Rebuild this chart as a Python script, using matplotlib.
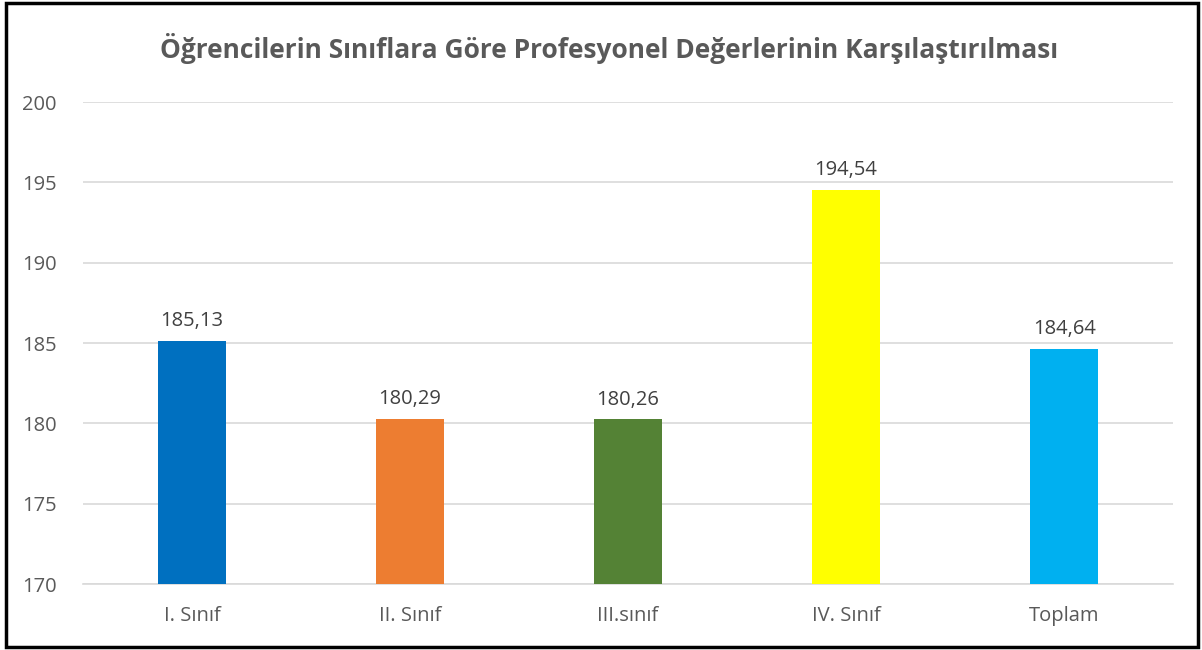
import matplotlib
matplotlib.use("Agg")
import matplotlib.pyplot as plt
from matplotlib.patches import Rectangle

categories = ["I. Sınıf", "II. Sınıf", "III.sınıf", "IV. Sınıf", "Toplam"]
values = [185.13, 180.29, 180.26, 194.54, 184.64]
value_labels = ["185,13", "180,29", "180,26", "194,54", "184,64"]
colors = ["#0070C0", "#ED7D31", "#548235", "#FFFF00", "#00B0F0"]
yticks = [170, 175, 180, 185, 190, 195, 200]
title = "Öğrencilerin Sınıflara Göre Profesyonel Değerlerinin Karşılaştırılması"

plt.rcParams['font.family'] = ['Open Sans', 'DejaVu Sans']

fig = plt.figure(figsize=(12.02, 6.5), dpi=100)
ax = fig.add_axes([0.069, 0.1015, 0.907, 0.7415])

x = list(range(len(categories)))
ax.bar(x, [v - 170 for v in values], bottom=170, width=0.31, color=colors, zorder=3)
for xi, v, lab in zip(x, values, value_labels):
    ax.text(xi, v + 0.6, lab, ha='center', va='bottom', fontsize=14.5, color='#404040')

ax.set_xlim(-0.5, len(categories) - 0.5)
ax.set_ylim(170, 200)
ax.set_yticks(yticks)
ax.set_yticklabels([str(t) for t in yticks], fontsize=14.5, color='#595959')
ax.set_xticks(x)
ax.set_xticklabels(categories, fontsize=14.5, color='#595959')
ax.tick_params(axis='x', length=0, pad=16)
ax.tick_params(axis='y', length=0, pad=30)
for lab in ax.get_yticklabels():
    lab.set_horizontalalignment('left')
ax.grid(axis='y', color='#D9D9D9', linewidth=1.2, zorder=0)
for s in ['top', 'right', 'left']:
    ax.spines[s].set_visible(False)
ax.spines['bottom'].set_color('#D9D9D9')
ax.spines['bottom'].set_linewidth(1.2)

# place y tick labels starting at ~x=22px
import matplotlib.transforms as mtransforms
offset = mtransforms.ScaledTranslation(-(83 - 22) / 100.0 + 30 / 72.0, 0, fig.dpi_scale_trans)
for lab in ax.get_yticklabels():
    lab.set_transform(lab.get_transform() + offset)

fig.text(0.507, 0.925, title, ha='center', va='center', fontsize=19,
         fontweight='bold', color='#595959')

fig.patches.append(Rectangle((0.005, 0.004), 0.992, 0.992, transform=fig.transFigure,
                             fill=False, edgecolor='black', linewidth=2.5))

fig.savefig("out.png", dpi=100)
